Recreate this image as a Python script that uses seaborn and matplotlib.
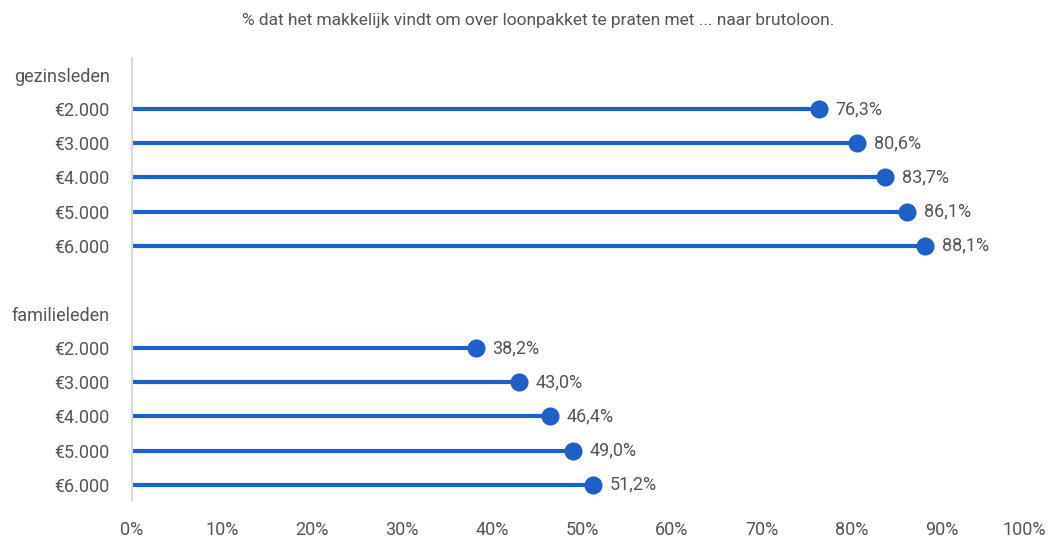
import matplotlib
matplotlib.use("Agg")
import matplotlib.pyplot as plt
import matplotlib.transforms as mtransforms
import seaborn as sns
import pandas as pd

groups = ["gezinsleden", "familieleden"]
salaries = ["€2.000", "€3.000", "€4.000", "€5.000", "€6.000"]
gezinsleden = [76.3, 80.6, 83.7, 86.1, 88.1]
familieleden = [38.2, 43.0, 46.4, 49.0, 51.2]
x_ticks = [0, 10, 20, 30, 40, 50, 60, 70, 80, 90, 100]
title = "% dat het makkelijk vindt om over loonpakket te praten met ... naar brutoloon."

sns.set_theme(style="white")
plt.rcParams['font.family'] = ['Roboto', 'DejaVu Sans']

BLUE = "#1f5fc8"
GRAY = "#555555"

# build rows
labels = []
rows = []
pos = 0
for g, vals in zip(groups, [gezinsleden, familieleden]):
    labels.append((pos, g))
    pos += 1
    for s, v in zip(salaries, vals):
        rows.append({"pos": pos, "value": v, "label": s})
        labels.append((pos, s))
        pos += 1
    pos += 1
df = pd.DataFrame(rows)

fig = plt.figure(figsize=(10.56, 5.42), dpi=100)
ax = fig.add_axes([132/1056, 42/542, (1032-132)/1056, (500-58)/542])

ax.hlines(df["pos"], 0, df["value"], color=BLUE, lw=3)
sns.scatterplot(data=df, x="value", y="pos", ax=ax, color=BLUE, s=170,
                edgecolor=BLUE, linewidth=0, zorder=3, legend=False)
for _, r in df.iterrows():
    ax.annotate(f"{r['value']:.1f}%".replace(".", ","), (r["value"], r["pos"]),
                xytext=(12, 0), textcoords="offset points", va="center", ha="left",
                fontsize=13, color=GRAY)

ax.set_xlim(0, 100)
ax.set_ylim(12.45, -0.5)
ax.set_yticks([p for p, _ in labels])
ax.set_yticklabels([t for _, t in labels])
ax.set_xticks(x_ticks)
ax.set_xticklabels([f"{t}%" for t in x_ticks])
ax.tick_params(axis="y", length=0, pad=16, labelsize=13, labelcolor=GRAY)
ax.tick_params(axis="x", length=0, pad=15, labelsize=13, labelcolor=GRAY)
# last tick label sits a bit inside the figure edge
last = ax.get_xticklabels()[-1]
last.set_transform(last.get_transform() + mtransforms.ScaledTranslation(-8/100, 0, fig.dpi_scale_trans))
for side in ["top", "right", "bottom"]:
    ax.spines[side].set_visible(False)
ax.spines["left"].set_color("#d9d9d9")
ax.spines["left"].set_linewidth(1.5)
ax.set_xlabel("")
ax.set_ylabel("")
ax.grid(False)

fig.text(538/1056, 1 - 20/542, title, ha="center", va="center", fontsize=12.5,
         color=GRAY)

fig.savefig("out.png", dpi=100)
